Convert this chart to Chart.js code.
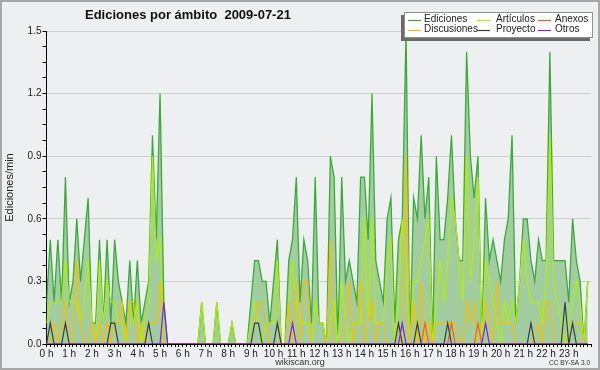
<!DOCTYPE html>
<html><head><meta charset="utf-8">
<script src="https://cdn.jsdelivr.net/npm/chart.js@4/dist/chart.umd.min.js"></script>
<style>
html,body{margin:0;padding:0;background:#eeeff1;}
canvas{display:block;}
</style></head><body>
<canvas id="c" width="600" height="370"></canvas>
<script>
const chartTitle = 'Ediciones por ámbito  2009-07-21';
const yTitle = 'Ediciones/min';
const footerSite = 'wikiscan.org';
const footerLicense = 'CC BY-SA 3.0';
const hourLabels = ['0 h','1 h','2 h','3 h','4 h','5 h','6 h','7 h','8 h','9 h','10 h','11 h',
  '12 h','13 h','14 h','15 h','16 h','17 h','18 h','19 h','20 h','21 h','22 h','23 h'];
const yMajorLabels = ['0.0','0.3','0.6','0.9','1.2','1.5'];
const seriesNames = ['Ediciones','Artículos','Anexos','Discusiones','Proyecto','Otros'];

// one value per 10 minutes (edits per minute), 144 slots
const ediciones = [
  0.2,0.5,0.2,0.5,0.2,0.8, 0.2,0.3,0.6,0.3,0.5,0.7, 0.1,0.1,0.5,0.1,0.5,0.1, 0.5,0.3,0.2,0.1,0.4,0.1,
  0.4,0.1,0.2,0.3,1.0,0.5, 1.2,0.2,0,0,0,0, 0,0,0,0,0,0.2, 0,0,0,0.2,0,0,
  0,0.1,0,0,0,0, 0.2,0.4,0.4,0.3,0.3,0.1, 0.3,0.5,0,0,0.4,0.5, 0.8,0.2,0.5,0.4,0.1,0.8,
  0.1,0.1,0,0.9,0.8,0, 0.8,0.3,0.4,0.3,0.2,0.8, 0.8,0.5,1.2,0.4,0.3,0.2, 0.6,0.7,0.1,0.5,0.6,1.5,
  0,0.7,0.6,1.0,0.6,0.8, 0,0.9,0.5,0.5,0.7,1.0, 0.6,0.4,0.4,1.4,0.9,0.7, 0.9,0,0.7,0.4,0.5,0.4,
  0.3,0.5,0.6,1.0,0.1,0.3, 0.6,0.6,0.4,0.3,0.5,0.4, 0.4,1.4,0.4,0.4,0.4,0.4, 0.2,0.6,0.4,0.3,0,0.3
];
const articulos = [
  0.1,0.2,0.2,0.2,0.2,0.4, 0.2,0.2,0.2,0.1,0.2,0.4, 0.1,0,0.4,0.1,0.3,0.2, 0.2,0.1,0.1,0,0.2,0.1,
  0.2,0,0.1,0.2,0.9,0.4, 0.5,0,0,0,0,0, 0,0,0,0,0,0.2, 0,0,0,0.2,0,0,
  0,0.1,0,0,0,0, 0.1,0.2,0.1,0,0.1,0.1, 0.1,0.4,0,0,0.2,0.4, 0.2,0.1,0.1,0.1,0,0.2,
  0.1,0.1,0,0.1,0.2,0, 0.3,0.1,0,0.1,0.1,0.1, 0.6,0.1,0.6,0.1,0.1,0.1, 0.4,0.5,0,0.2,0.6,0.4,
  0,0.3,0.3,0.4,0.5,0.6, 0,0.2,0.4,0.2,0.4,0.7, 0.6,0.4,0.2,0.9,0.3,0.5, 0.8,0,0.4,0.3,0.2,0.1,
  0,0.2,0.1,0.2,0.1,0.3, 0.5,0.3,0.2,0.2,0.2,0.1, 0.3,1.0,0.3,0.2,0.1,0, 0.1,0.2,0.3,0.2,0,0.3
];
const anexos = [
  0,0,0,0,0,0, 0,0,0,0,0,0, 0,0,0,0,0,0, 0,0,0,0,0,0,
  0,0,0,0,0,0, 0,0,0,0,0,0, 0,0,0,0,0,0, 0,0,0,0,0,0,
  0,0,0,0,0,0, 0,0,0,0,0,0, 0,0,0,0,0,0, 0,0,0,0,0,0,
  0,0,0,0,0,0, 0,0,0,0,0,0, 0,0,0,0,0,0, 0,0,0,0,0,0,
  0,0,0,0,0.1,0, 0,0,0,0,0,0.1, 0,0,0,0,0,0, 0.1,0,0,0,0,0,
  0,0,0,0,0,0, 0,0,0,0,0,0, 0,0,0,0,0,0, 0,0,0,0,0,0
];
const discusiones = [
  0,0,0.1,0,0.1,0.2, 0,0,0.4,0.1,0,0, 0.1,0,0.1,0,0.1,0, 0.1,0.1,0.2,0,0.2,0.2,
  0,0.1,0,0.1,0.1,0.1, 0.3,0,0,0,0,0, 0,0,0,0,0,0, 0,0,0,0,0,0,
  0,0,0,0,0,0, 0,0.1,0.2,0.2,0.1,0, 0,0,0,0,0.2,0, 0.3,0,0.3,0.3,0,0,
  0,0,0,0.5,0,0, 0,0.1,0.3,0,0.1,0.3, 0,0.1,0.2,0,0.1,0.1, 0,0,0,0.1,0,0.9,
  0,0.2,0,0.3,0,0.1, 0,0.1,0.1,0.1,0.1,0.1, 0.1,0,0,0.2,0.1,0.2, 0,0,0.2,0.1,0,0.3,
  0.1,0.1,0.1,0.1,0,0, 0,0,0,0,0.1,0, 0.2,0.2,0,0,0,0, 0,0.1,0.1,0.1,0,0
];
const proyecto = [
  0,0.1,0,0,0,0.1, 0,0,0,0,0,0, 0,0,0,0,0,0.1, 0.1,0,0,0,0,0,
  0,0,0,0.1,0,0, 0,0,0,0,0,0, 0,0,0,0,0,0, 0,0,0,0,0,0,
  0,0,0,0,0,0, 0,0.1,0.1,0,0,0, 0,0.1,0,0,0,0, 0,0,0,0,0,0,
  0,0,0,0,0,0, 0,0,0,0,0,0, 0,0,0,0,0,0, 0,0,0,0.1,0,0,
  0,0,0.1,0,0,0, 0,0,0,0,0.1,0, 0,0,0,0,0,0, 0,0,0,0,0,0,
  0,0,0,0,0,0, 0,0,0.1,0,0,0, 0,0,0,0,0,0.2, 0,0.1,0,0,0,0
];
const otros = [
  0,0,0,0,0,0, 0,0,0,0,0,0, 0,0,0,0,0,0, 0,0,0,0,0,0,
  0,0,0,0,0,0, 0,0.2,0,0,0,0, 0,0,0,0,0,0, 0,0,0,0,0,0,
  0,0,0,0,0,0, 0,0,0,0,0,0, 0,0,0,0,0,0.1, 0,0,0,0,0,0,
  0,0,0,0,0,0, 0,0,0,0,0,0, 0,0,0,0,0,0, 0,0,0,0,0.1,0,
  0,0,0,0,0,0, 0,0,0,0,0,0, 0,0,0,0,0,0, 0,0,0.1,0,0,0,
  0,0,0,0,0,0, 0,0,0,0,0,0, 0,0,0,0,0,0, 0,0,0,0,0,0
];

const FONT = '"Liberation Sans", Arial, sans-serif';
const toPts = arr => arr.map((v, i) => ({x: i, y: v}));
const isMajor = v => { const r = v / 0.3; return Math.abs(r - Math.round(r)) < 1e-6; };

const decor = {
  id: 'decor',
  beforeDraw(chart) {
    const ctx = chart.ctx;
    ctx.save();
    ctx.fillStyle = '#eeeff1';
    ctx.fillRect(0, 0, chart.width, chart.height);
    ctx.restore();
  },
  afterDraw(chart) {
    const ctx = chart.ctx;
    ctx.save();
    // frame
    ctx.strokeStyle = '#a8a8a8';
    ctx.lineWidth = 2;
    ctx.strokeRect(1, 1, chart.width - 2, chart.height - 2);
    // title
    ctx.fillStyle = '#111';
    ctx.font = 'bold 13px ' + FONT;
    ctx.textAlign = 'left';
    ctx.textBaseline = 'alphabetic';
    ctx.fillText(chartTitle, 85, 19);
    // footer
    ctx.fillStyle = '#333';
    ctx.font = '9px ' + FONT;
    ctx.textAlign = 'center';
    ctx.fillText(footerSite, 300, 365);
    ctx.font = '6.5px ' + FONT;
    ctx.textAlign = 'right';
    ctx.fillText(footerLicense, 590, 365);
    // legend
    const bx = 404, by = 12, bw = 189, bh = 26;
    ctx.fillStyle = '#6a6a6a';
    ctx.fillRect(bx - 3, by + 3, bw, bh);
    ctx.fillStyle = '#ffffff';
    ctx.fillRect(bx, by, bw, bh);
    ctx.strokeStyle = '#909090';
    ctx.lineWidth = 1;
    ctx.strokeRect(bx + 0.5, by + 0.5, bw - 1, bh - 1);
    const cols = [{s: 408, t: 424}, {s: 477, t: 496}, {s: 538, t: 555}];
    const rows = [19.5, 29.5];
    ctx.font = '10px ' + FONT;
    ctx.textAlign = 'left';
    ctx.textBaseline = 'middle';
    chart.data.datasets.forEach((ds, k) => {
      const c = cols[k % 3], y = rows[Math.floor(k / 3)];
      ctx.strokeStyle = ds.borderColor;
      ctx.lineWidth = 1.2;
      ctx.beginPath();
      ctx.moveTo(c.s, Math.round(y) + 0.5);
      ctx.lineTo(c.s + 13, Math.round(y) + 0.5);
      ctx.stroke();
      ctx.fillStyle = '#222';
      ctx.fillText(ds.label, c.t, y);
    });
    ctx.restore();
  }
};

const colors = {
  'Ediciones': '#3aab3a', 'Artículos': '#b2ef00', 'Anexos': '#ff5a14',
  'Discusiones': '#f5c000', 'Proyecto': '#3c3c3c', 'Otros': '#7a22f0'
};
const series = [ediciones, articulos, anexos, discusiones, proyecto, otros];
const orders = [6, 5, 3, 4, 2, 1];

const datasets = seriesNames.map((name, k) => ({
  label: name,
  data: toPts(series[k]),
  borderColor: colors[name],
  backgroundColor: k === 0 ? '#a1cda1' : colors[name],
  fill: k === 0 ? 'origin' : false,
  borderWidth: k === 0 ? 1.3 : 1.2,
  pointRadius: 0,
  tension: 0,
  order: orders[k]
}));

new Chart(document.getElementById('c'), {
  type: 'line',
  data: {datasets},
  plugins: [decor],
  options: {
    responsive: false,
    animation: false,
    devicePixelRatio: 1,
    layout: {padding: {top: 31, right: 8.5, left: 0, bottom: 0}},
    plugins: {legend: {display: false}, title: {display: false}, tooltip: {enabled: false}},
    scales: {
      x: {
        type: 'linear', min: 0, max: 144,
        afterFit(s) { s.height = 26; },
        ticks: {
          stepSize: 1, autoSkip: false, maxRotation: 0, minRotation: 0, padding: 1,
          font: {family: FONT, size: 10}, color: '#222',
          callback: v => (v % 6 === 0 && v < 144) ? hourLabels[v / 6] : ''
        },
        grid: {drawOnChartArea: false, tickLength: 3, tickColor: '#000', tickWidth: 1},
        border: {color: '#000', width: 1}
      },
      y: {
        min: 0, max: 1.5,
        afterFit(s) { s.width = 46.5; },
        ticks: {
          stepSize: 0.075, autoSkip: false, padding: 1,
          font: {family: FONT, size: 10}, color: '#222',
          callback: v => isMajor(v) ? yMajorLabels[Math.round(v / 0.3)] : ''
        },
        grid: {
          color: c => (c.tick && isMajor(c.tick.value) && c.tick.value > 0) ? '#cfcfcf' : 'rgba(0,0,0,0)',
          tickColor: '#000', tickLength: 4, lineWidth: 1
        },
        border: {color: '#000', width: 1},
        title: {display: true, text: yTitle, font: {family: FONT, size: 11}, color: '#222', padding: {top: 3, bottom: 0}}
      }
    }
  }
});
</script>
</body></html>
